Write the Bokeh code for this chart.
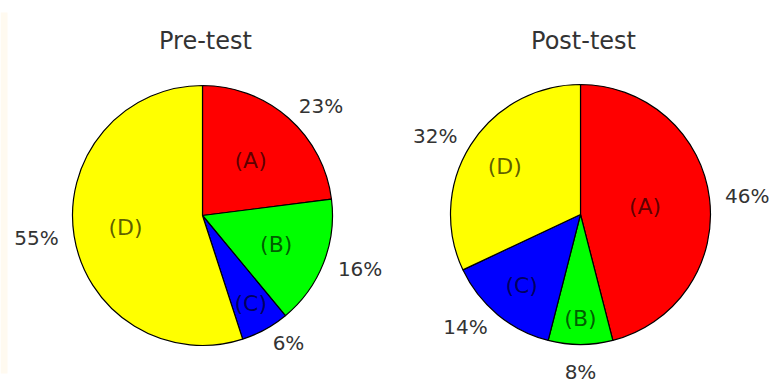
import math
from bokeh.plotting import figure
from bokeh.models import Range1d, ColumnDataSource, BoxAnnotation
from bokeh.core.properties import value
from bokeh.embed import file_html
from bokeh.resources import INLINE

# ---- data ----
categories = ["(A)", "(B)", "(C)", "(D)"]
pre_values = [23, 16, 6, 55]
post_values = [46, 8, 14, 32]
titles = ["Pre-test", "Post-test"]
colors = ["#ff0000", "#00ff00", "#0000ff", "#ffff00"]

# ---- layout (pixels, y measured upward from bottom) ----
W, H = 769, 385
centers = [(202, 170), (580, 171)]
R = 130
label_r = [[0.56, 0.61, 0.77, 0.60], [0.50, 0.80, 0.71, 0.69]]
pct_r = 1.12
title_y = 345

FONT = "DejaVu Sans"

p = figure(width=W, height=H, output_backend="svg", toolbar_location=None,
           x_range=Range1d(0, W), y_range=Range1d(0, H),
           min_border=0, outline_line_color=None, background_fill_color="white",
           border_fill_color="white")
p.xaxis.visible = False
p.yaxis.visible = False
p.grid.visible = False

p.add_layout(BoxAnnotation(left=0, right=7, bottom=12, top=373,
                           fill_color="#fffaf0", fill_alpha=1.0, line_color=None))

for k, vals in enumerate([pre_values, post_values]):
    cx, cy = centers[k]
    total = float(sum(vals))
    cum = 0.0
    starts, ends, lx, ly, px, py, ptxt, palign, pbase = [], [], [], [], [], [], [], [], []
    for i, v in enumerate(vals):
        f0 = cum / total
        f1 = (cum + v) / total
        cum += v
        starts.append(math.pi / 2 - 2 * math.pi * f0)
        ends.append(math.pi / 2 - 2 * math.pi * f1)
        th = 2 * math.pi * (f0 + f1) / 2  # clockwise from top
        s, c = math.sin(th), math.cos(th)
        lx.append(cx + label_r[k][i] * R * s)
        ly.append(cy + label_r[k][i] * R * c)
        px.append(cx + pct_r * R * s)
        py.append(cy + pct_r * R * c)
        ptxt.append("%d%%" % round(100 * v / total))
        palign.append("left" if s > 0.1 else ("right" if s < -0.1 else "center"))
        pbase.append("top" if c < -0.9 else ("bottom" if c > 0.9 else "middle"))
    src = ColumnDataSource(dict(x=[cx] * 4, y=[cy] * 4, start=starts, end=ends, color=colors))
    p.wedge(x="x", y="y", radius=R, start_angle="start", end_angle="end",
            direction="clock", fill_color="color", line_color="black", line_width=1.2,
            source=src)
    p.text(x=lx, y=ly, text=categories, text_font=value(FONT), text_font_size="22px",
           text_color="black", text_alpha=0.65, text_align="center", text_baseline="middle")
    for j in range(4):
        p.text(x=[px[j]], y=[py[j]], text=[ptxt[j]], text_font=value(FONT),
               text_font_size="20px", text_color="#333333",
               text_align=palign[j], text_baseline=pbase[j])
    p.text(x=[cx + 3], y=[title_y], text=[titles[k]], text_font=value(FONT),
           text_font_size="24px", text_color="#333333", text_align="center",
           text_baseline="middle")

open("out.html", "w").write(file_html(p, INLINE))
